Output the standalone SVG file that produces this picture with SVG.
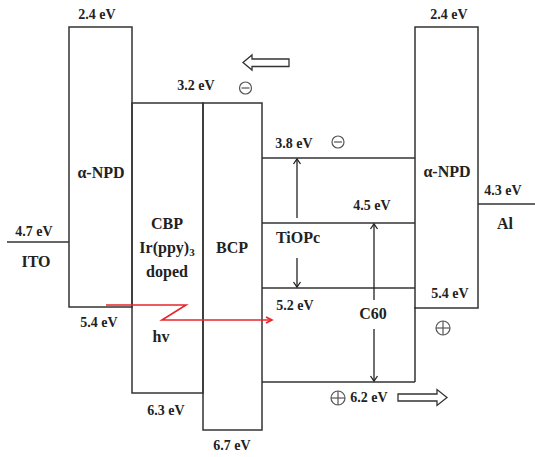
<svg xmlns="http://www.w3.org/2000/svg" width="535" height="457" viewBox="0 0 535 457">
<defs>
<style>
.ln{fill:none;stroke:#333;stroke-width:1.5}
.ar{fill:none;stroke:#222;stroke-width:1.3}
.red{fill:none;stroke:#e8262a;stroke-width:1.6}
.hol{fill:#fff;stroke:#333;stroke-width:1.3}
.sym{fill:none;stroke:#555;stroke-width:1.2}
text{font-family:"Liberation Serif","Times New Roman",serif;font-weight:bold;fill:#222;text-anchor:middle}
.ev{font-size:14px}
.lb{font-size:16px}
</style>
<marker id="ah" markerWidth="10" markerHeight="10" refX="8" refY="5" orient="auto" markerUnits="userSpaceOnUse">
<path d="M3,1.5 L8,5 L3,8.5" fill="none" stroke="#222" stroke-width="1.3"/>
</marker>
<marker id="ahr" markerWidth="10" markerHeight="10" refX="8" refY="5" orient="auto" markerUnits="userSpaceOnUse">
<path d="M2,2 L8,5 L2,8" fill="none" stroke="#e8262a" stroke-width="1.6"/>
</marker>
</defs>
<rect width="535" height="457" fill="#fff"/>

<g id="ITO">
<line class="ln" x1="7" y1="242" x2="69" y2="242"/>
<text class="ev" x="34" y="236">4.7 eV</text>
<text class="lb" x="36" y="267">ITO</text>
</g>

<g id="aNPD-left">
<rect class="ln" x="69" y="27" width="63" height="280"/>
<text class="ev" x="97" y="19">2.4 eV</text>
<text class="lb" x="101" y="178">α-NPD</text>
<text class="ev" x="99" y="327">5.4 eV</text>
</g>

<g id="CBP">
<rect class="ln" x="132" y="103" width="71" height="290"/>
<text class="ev" x="196" y="90">3.2 eV</text>
<text class="lb" x="167" y="229">CBP</text>
<text class="lb" x="167" y="253">Ir(ppy)<tspan font-size="11px" dy="3">3</tspan></text>
<text class="lb" x="167" y="277">doped</text>
<text class="lb" x="161" y="342">hv</text>
<text class="ev" x="166" y="415">6.3 eV</text>
</g>

<g id="BCP">
<rect class="ln" x="203" y="103" width="59" height="327"/>
<text class="lb" x="232" y="253">BCP</text>
<text class="ev" x="232" y="450">6.7 eV</text>
</g>

<g id="TiOPc">
<line class="ln" x1="262" y1="158" x2="415" y2="158"/>
<line class="ln" x1="262" y1="288" x2="415" y2="288"/>
<text class="ev" x="294" y="148">3.8 eV</text>
<text class="lb" x="298" y="243">TiOPc</text>
<text class="ev" x="295" y="310">5.2 eV</text>
</g>

<g id="C60">
<line class="ln" x1="262" y1="223" x2="415" y2="223"/>
<line class="ln" x1="262" y1="382" x2="415" y2="382"/>
<line class="ln" x1="415" y1="307" x2="415" y2="382"/>
<text class="ev" x="372" y="210">4.5 eV</text>
<text class="lb" x="373" y="319">C60</text>
<text class="ev" x="369" y="402">6.2 eV</text>
</g>

<g id="aNPD-right">
<rect class="ln" x="415" y="27" width="63" height="281"/>
<text class="ev" x="449" y="19">2.4 eV</text>
<text class="lb" x="447" y="177">α-NPD</text>
<text class="ev" x="450" y="298">5.4 eV</text>
</g>

<g id="Al">
<line class="ln" x1="478" y1="204" x2="535" y2="204"/>
<text class="ev" x="503" y="195">4.3 eV</text>
<text class="lb" x="505" y="229">Al</text>
</g>

<g id="charges">
<circle class="sym" cx="245.5" cy="88" r="6"/>
<line class="sym" x1="241.5" y1="88" x2="249.5" y2="88"/>
<circle class="sym" cx="338" cy="142" r="6"/>
<line class="sym" x1="334" y1="142" x2="342" y2="142"/>
<circle class="sym" cx="443" cy="328" r="7"/>
<line class="sym" x1="436" y1="328" x2="450" y2="328"/>
<line class="sym" x1="443" y1="321" x2="443" y2="335"/>
<circle class="sym" cx="338" cy="398" r="7"/>
<line class="sym" x1="331" y1="398" x2="345" y2="398"/>
<line class="sym" x1="338" y1="391" x2="338" y2="405"/>
</g>

<g id="connectors">
<line class="ar" x1="297" y1="218" x2="297" y2="159" marker-end="url(#ah)"/>
<line class="ar" x1="297" y1="258" x2="297" y2="287" marker-end="url(#ah)"/>
<line class="ar" x1="374" y1="300" x2="374" y2="224" marker-end="url(#ah)"/>
<line class="ar" x1="374" y1="329" x2="374" y2="381" marker-end="url(#ah)"/>
<polyline class="red" points="106,305 186,305 162,320 272,320" marker-end="url(#ahr)"/>
<polygon class="hol" points="243,62.5 252,55 252,59 289,59 289,66.5 252,66.5 252,70"/>
<polygon class="hol" points="447,397.5 437,389.5 437,394 398,394 398,401 437,401 437,405.5"/>
</g>
</svg>
